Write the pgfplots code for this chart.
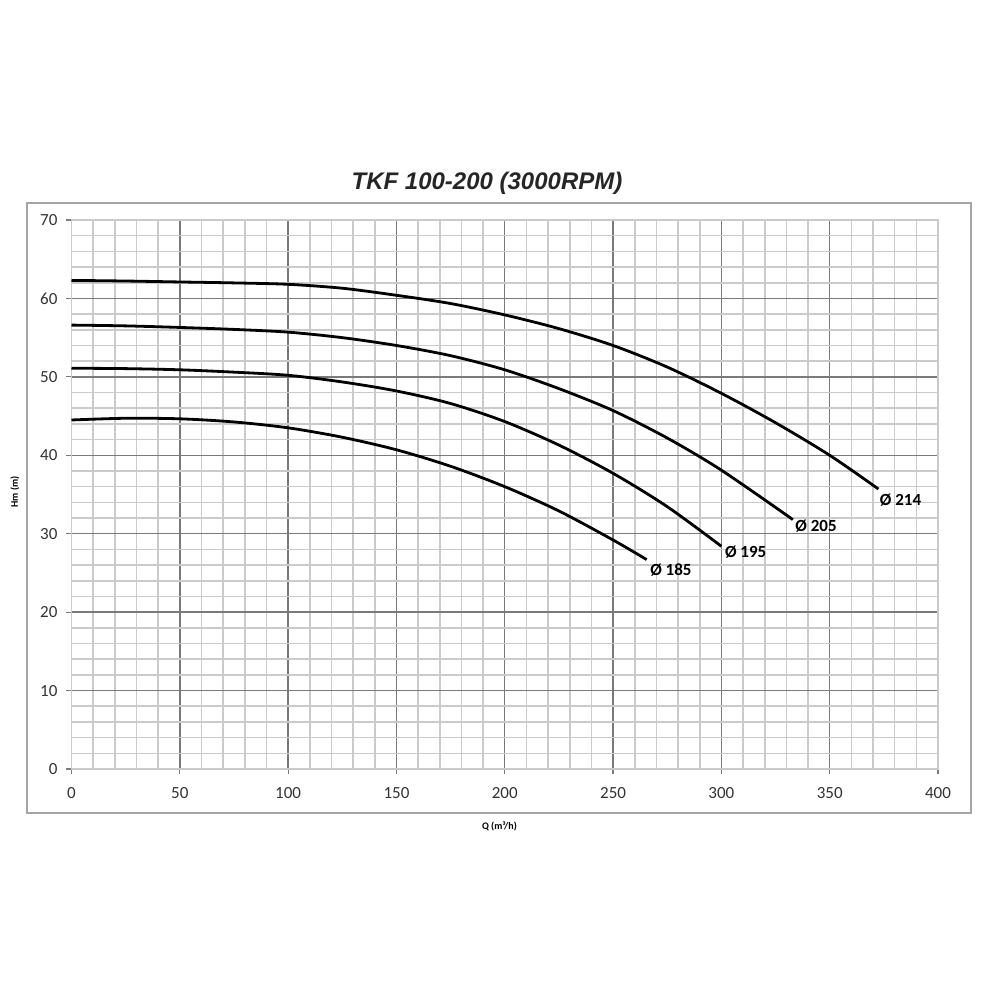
\documentclass[border=0pt]{standalone}
\usepackage{fontspec}
\setmainfont{Carlito}
\newfontfamily\arialf{Liberation Sans}
\usepackage{pgfplots}
\pgfplotsset{compat=1.18}
\definecolor{mingrid}{HTML}{CACACA}
\definecolor{majgrid}{HTML}{7A7A7A}
\definecolor{framec}{HTML}{A6A6A6}
\begin{document}
\begin{tikzpicture}
\path[use as bounding box] (-35.75pt,-115.5pt) rectangle (464.25pt,384.5pt);
\fill[white] (-35.75pt,-115.5pt) rectangle (464.25pt,384.5pt);
\draw[framec, line width=0.9pt] (-22.25pt,-22pt) rectangle (449.75pt,283pt);
\node[font=\arialf\bfseries\itshape\fontsize{12}{14}\selectfont, text=black!85] at (207.75pt,293pt) {TKF 100-200 (3000RPM)};
\node[font=\bfseries\fontsize{5}{6}\selectfont] at (214pt,-28.5pt) {Q (m³/h)};
\node[font=\bfseries\fontsize{5}{6}\selectfont, rotate=90] at (-28.25pt,138.5pt) {Hm (m)};
\begin{axis}[
  at={(0,0)}, anchor=south west,
  scale only axis, width=433.25pt, height=274.5pt,
  xmin=0, xmax=400, ymin=0, ymax=70,
  xtick={0,50,...,400}, ytick={0,10,...,70},
  minor x tick num=4, minor y tick num=4,
  grid=both,
  major grid style={majgrid, line width=0.7pt},
  minor grid style={mingrid, line width=0.8pt},
  axis line style={mingrid, line width=0.8pt},
  tick style={majgrid, line width=0.6pt},
  major tick length=2.5pt, minor tick length=0pt,
  tick align=outside,
  xtick pos=bottom, ytick pos=left,
  /pgf/number format/assume math mode=true,
  tick label style={font=\fontsize{8.5}{10}\selectfont, text=black!80},
  xticklabel style={yshift=-3pt},
  yticklabel style={xshift=-1pt},
  clip=false,
]
\addplot[black, line width=1.4pt, smooth] coordinates {
(0,62.3) (25,62.22) (50,62.1) (75,61.98) (100,61.8) (125,61.3) (150,60.4) (175,59.35) (200,57.9) (225,56.15) (250,54.0) (275,51.25) (300,47.9) (325,44.15) (350,40.0) (372.5,35.7)};
\addplot[black, line width=1.4pt, smooth] coordinates {
(0,56.6) (25,56.5) (50,56.3) (75,56.05) (100,55.7) (125,55.0) (150,54.0) (175,52.7) (200,50.9) (225,48.5) (250,45.7) (275,42.2) (300,38.1) (333,31.8)};
\addplot[black, line width=1.4pt, smooth] coordinates {
(0,51.1) (25,51.05) (50,50.9) (75,50.6) (100,50.2) (125,49.35) (150,48.2) (175,46.6) (200,44.3) (225,41.3) (250,37.7) (275,33.45) (300,28.4)};
\addplot[black, line width=1.4pt, smooth] coordinates {
(0,44.5) (25,44.72) (50,44.65) (75,44.25) (100,43.5) (125,42.3) (150,40.7) (175,38.6) (200,36.0) (225,32.9) (250,29.2) (265.5,26.7)};
\node[anchor=west, inner sep=0pt, font=\bfseries\fontsize{8.5}{10}\selectfont] at (axis cs:373,34.3) {Ø 214};
\node[anchor=west, inner sep=0pt, font=\bfseries\fontsize{8.5}{10}\selectfont] at (axis cs:334,30.9) {Ø 205};
\node[anchor=west, inner sep=0pt, font=\bfseries\fontsize{8.5}{10}\selectfont] at (axis cs:301.5,27.7) {Ø 195};
\node[anchor=west, inner sep=0pt, font=\bfseries\fontsize{8.5}{10}\selectfont] at (axis cs:267,25.4) {Ø 185};
\end{axis}
\end{tikzpicture}
\end{document}
